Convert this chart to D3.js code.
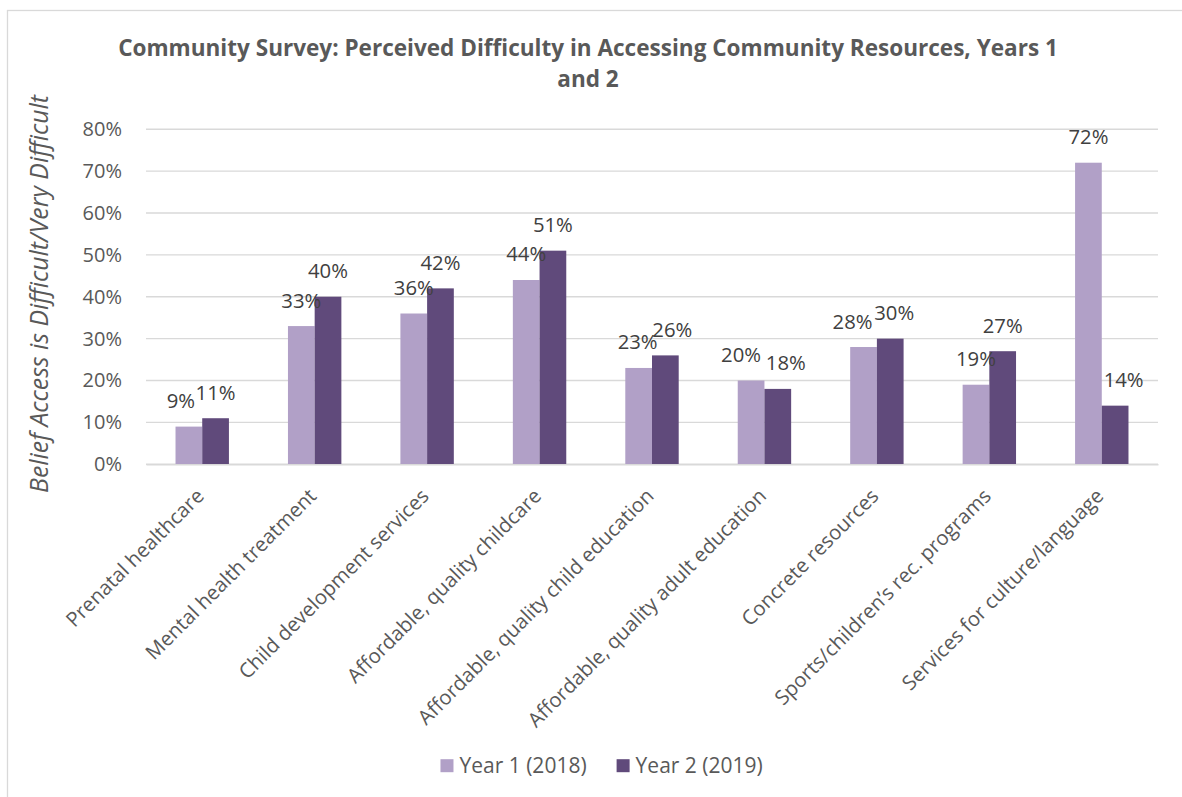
<!DOCTYPE html>
<html>
<head>
<meta charset="utf-8">
<script src="https://cdn.jsdelivr.net/npm/d3@7"></script>
<style>
  body { margin: 0; background: #fff; }
  svg { display: block; font-family: "Open Sans", sans-serif; }
</style>
</head>
<body>
<svg id="chart" width="1182" height="797"></svg>
<script>
// ---- data ----
const categories = [
  "Prenatal healthcare",
  "Mental health treatment",
  "Child development services",
  "Affordable, quality childcare",
  "Affordable, quality child education",
  "Affordable, quality adult education",
  "Concrete resources",
  "Sports/children\u2019s rec. programs",
  "Services for culture/language"
];
const year1 = [9, 33, 36, 44, 23, 20, 28, 19, 72];
const year2 = [11, 40, 42, 51, 26, 18, 30, 27, 14];
const seriesNames = ["Year 1 (2018)", "Year 2 (2019)"];
const yTicks = [0, 10, 20, 30, 40, 50, 60, 70, 80];
const titleLines = [
  "Community Survey: Perceived Difficulty in Accessing Community Resources, Years 1",
  "and 2"
];
const yAxisTitle = "Belief Access is Difficult/Very Difficult";

// ---- styling / layout ----
const colors = ["#b1a0c7", "#604a7b"];
const textGrey = "#595959";
const labelGrey = "#404040";
const gridGrey = "#d9d9d9";

// hand-placed horizontal shifts for data labels that would collide
const labelShift = {
  "0-0": -8,
  "4-0": -1, "4-1": 7,
  "5-0": -10, "5-1": 8,
  "6-0": -11, "6-1": 4,
  "8-1": 8.5
};

const W = 1182, H = 797;
const plot = { left: 146, right: 1158, top: 129.2, bottom: 464.3 };

const svg = d3.select("#chart");

// chart area border
svg.append("rect")
  .attr("x", 7.5).attr("y", 10.5)
  .attr("width", W + 20).attr("height", H + 20)
  .attr("fill", "none").attr("stroke", gridGrey).attr("stroke-width", 1.3);

// scales
const x0 = d3.scaleBand()
  .domain(categories)
  .range([plot.left, plot.right])
  .paddingInner(0.525)
  .paddingOuter(0.2625);
const x1 = d3.scaleBand()
  .domain([0, 1])
  .range([0, x0.bandwidth()]);
const y = d3.scaleLinear()
  .domain([0, 80])
  .range([plot.bottom, plot.top]);

// gridlines
svg.append("g")
  .selectAll("line")
  .data(yTicks)
  .join("line")
  .attr("x1", plot.left).attr("x2", plot.right)
  .attr("y1", d => y(d)).attr("y2", d => y(d))
  .attr("stroke", gridGrey).attr("stroke-width", 1.4);

// y axis tick labels
const yAxis = d3.axisLeft(y)
  .tickValues(yTicks)
  .tickFormat(d => d + "%")
  .tickSize(0)
  .tickPadding(0);
const yAxisG = svg.append("g")
  .attr("transform", `translate(${plot.left - 24},0)`)
  .call(yAxis);
yAxisG.select(".domain").remove();
yAxisG.selectAll("text")
  .attr("fill", textGrey)
  .attr("font-size", 20)
  .attr("font-family", "Open Sans, sans-serif");

// bars
const rows = categories.map((c, i) => ({ cat: c, i, vals: [year1[i], year2[i]] }));
const groups = svg.append("g")
  .selectAll("g")
  .data(rows)
  .join("g")
  .attr("transform", d => `translate(${x0(d.cat)},0)`);

groups.selectAll("rect")
  .data(d => d.vals.map((v, s) => ({ v, s, i: d.i })))
  .join("rect")
  .attr("x", d => x1(d.s))
  .attr("width", x1.bandwidth())
  .attr("y", d => y(d.v))
  .attr("height", d => y(0) - y(d.v))
  .attr("fill", d => colors[d.s]);

// data labels
groups.selectAll("text")
  .data(d => d.vals.map((v, s) => ({ v, s, i: d.i })))
  .join("text")
  .attr("x", d => x1(d.s) + x1.bandwidth() / 2 + (labelShift[d.i + "-" + d.s] || 0))
  .attr("y", d => y(d.v) - 18.5)
  .attr("text-anchor", "middle")
  .attr("font-size", 20.3)
  .attr("fill", labelGrey)
  .text(d => d.v + "%");

// x axis category labels, rotated
const xAxis = d3.axisBottom(x0).tickSize(0).tickPadding(0);
const xAxisG = svg.append("g")
  .attr("transform", `translate(0,${plot.bottom})`)
  .call(xAxis);
xAxisG.select(".domain")
  .attr("stroke", gridGrey).attr("stroke-width", 1.4);
xAxisG.selectAll("text")
  .attr("fill", textGrey)
  .attr("font-size", 20.3)
  .attr("font-family", "Open Sans, sans-serif")
  .attr("text-anchor", "end")
  .attr("dy", 0)
  .attr("y", 0)
  .attr("transform", "translate(3,33) rotate(-45)");

// title, fitted to its width
const title = svg.append("g")
  .attr("font-weight", 700)
  .attr("fill", textGrey)
  .attr("text-anchor", "middle");
const titleSize = 19.6;
title.selectAll("text")
  .data(titleLines)
  .join("text")
  .attr("x", 588)
  .attr("y", (d, i) => 56 + i * 30.5)
  .attr("font-size", titleSize)
  .text(d => d);
const t0 = title.select("text").node();
const fit = 940 / t0.getComputedTextLength();
title.selectAll("text").attr("font-size", titleSize * fit);

// y axis title
const yt = svg.append("text")
  .attr("transform", "translate(48,294) rotate(-90)")
  .attr("text-anchor", "middle")
  .attr("font-style", "italic")
  .attr("font-size", 21)
  .attr("fill", textGrey)
  .text(yAxisTitle);
const ytFit = 398 / yt.node().getComputedTextLength();
yt.attr("font-size", 21 * ytFit);

// legend
const legend = svg.append("g");
const items = legend.selectAll("g")
  .data(seriesNames)
  .join("g");
items.append("rect")
  .attr("width", 13).attr("height", 13)
  .attr("y", -13.3)
  .attr("fill", (d, i) => colors[i]);
items.append("text")
  .attr("x", 19)
  .attr("font-size", 21)
  .attr("fill", textGrey)
  .text(d => d);
let cursor = 0;
const widths = [];
items.each(function () {
  const tw = d3.select(this).select("text").node().getComputedTextLength();
  widths.push(19 + tw);
});
const gap = 30;
const total = d3.sum(widths) + gap * (widths.length - 1);
const startX = 601.6 - total / 2;
items.attr("transform", (d, i) => {
  const tx = startX + cursor;
  cursor += widths[i] + gap;
  return `translate(${tx},772.5)`;
});
</script>
</body>
</html>
